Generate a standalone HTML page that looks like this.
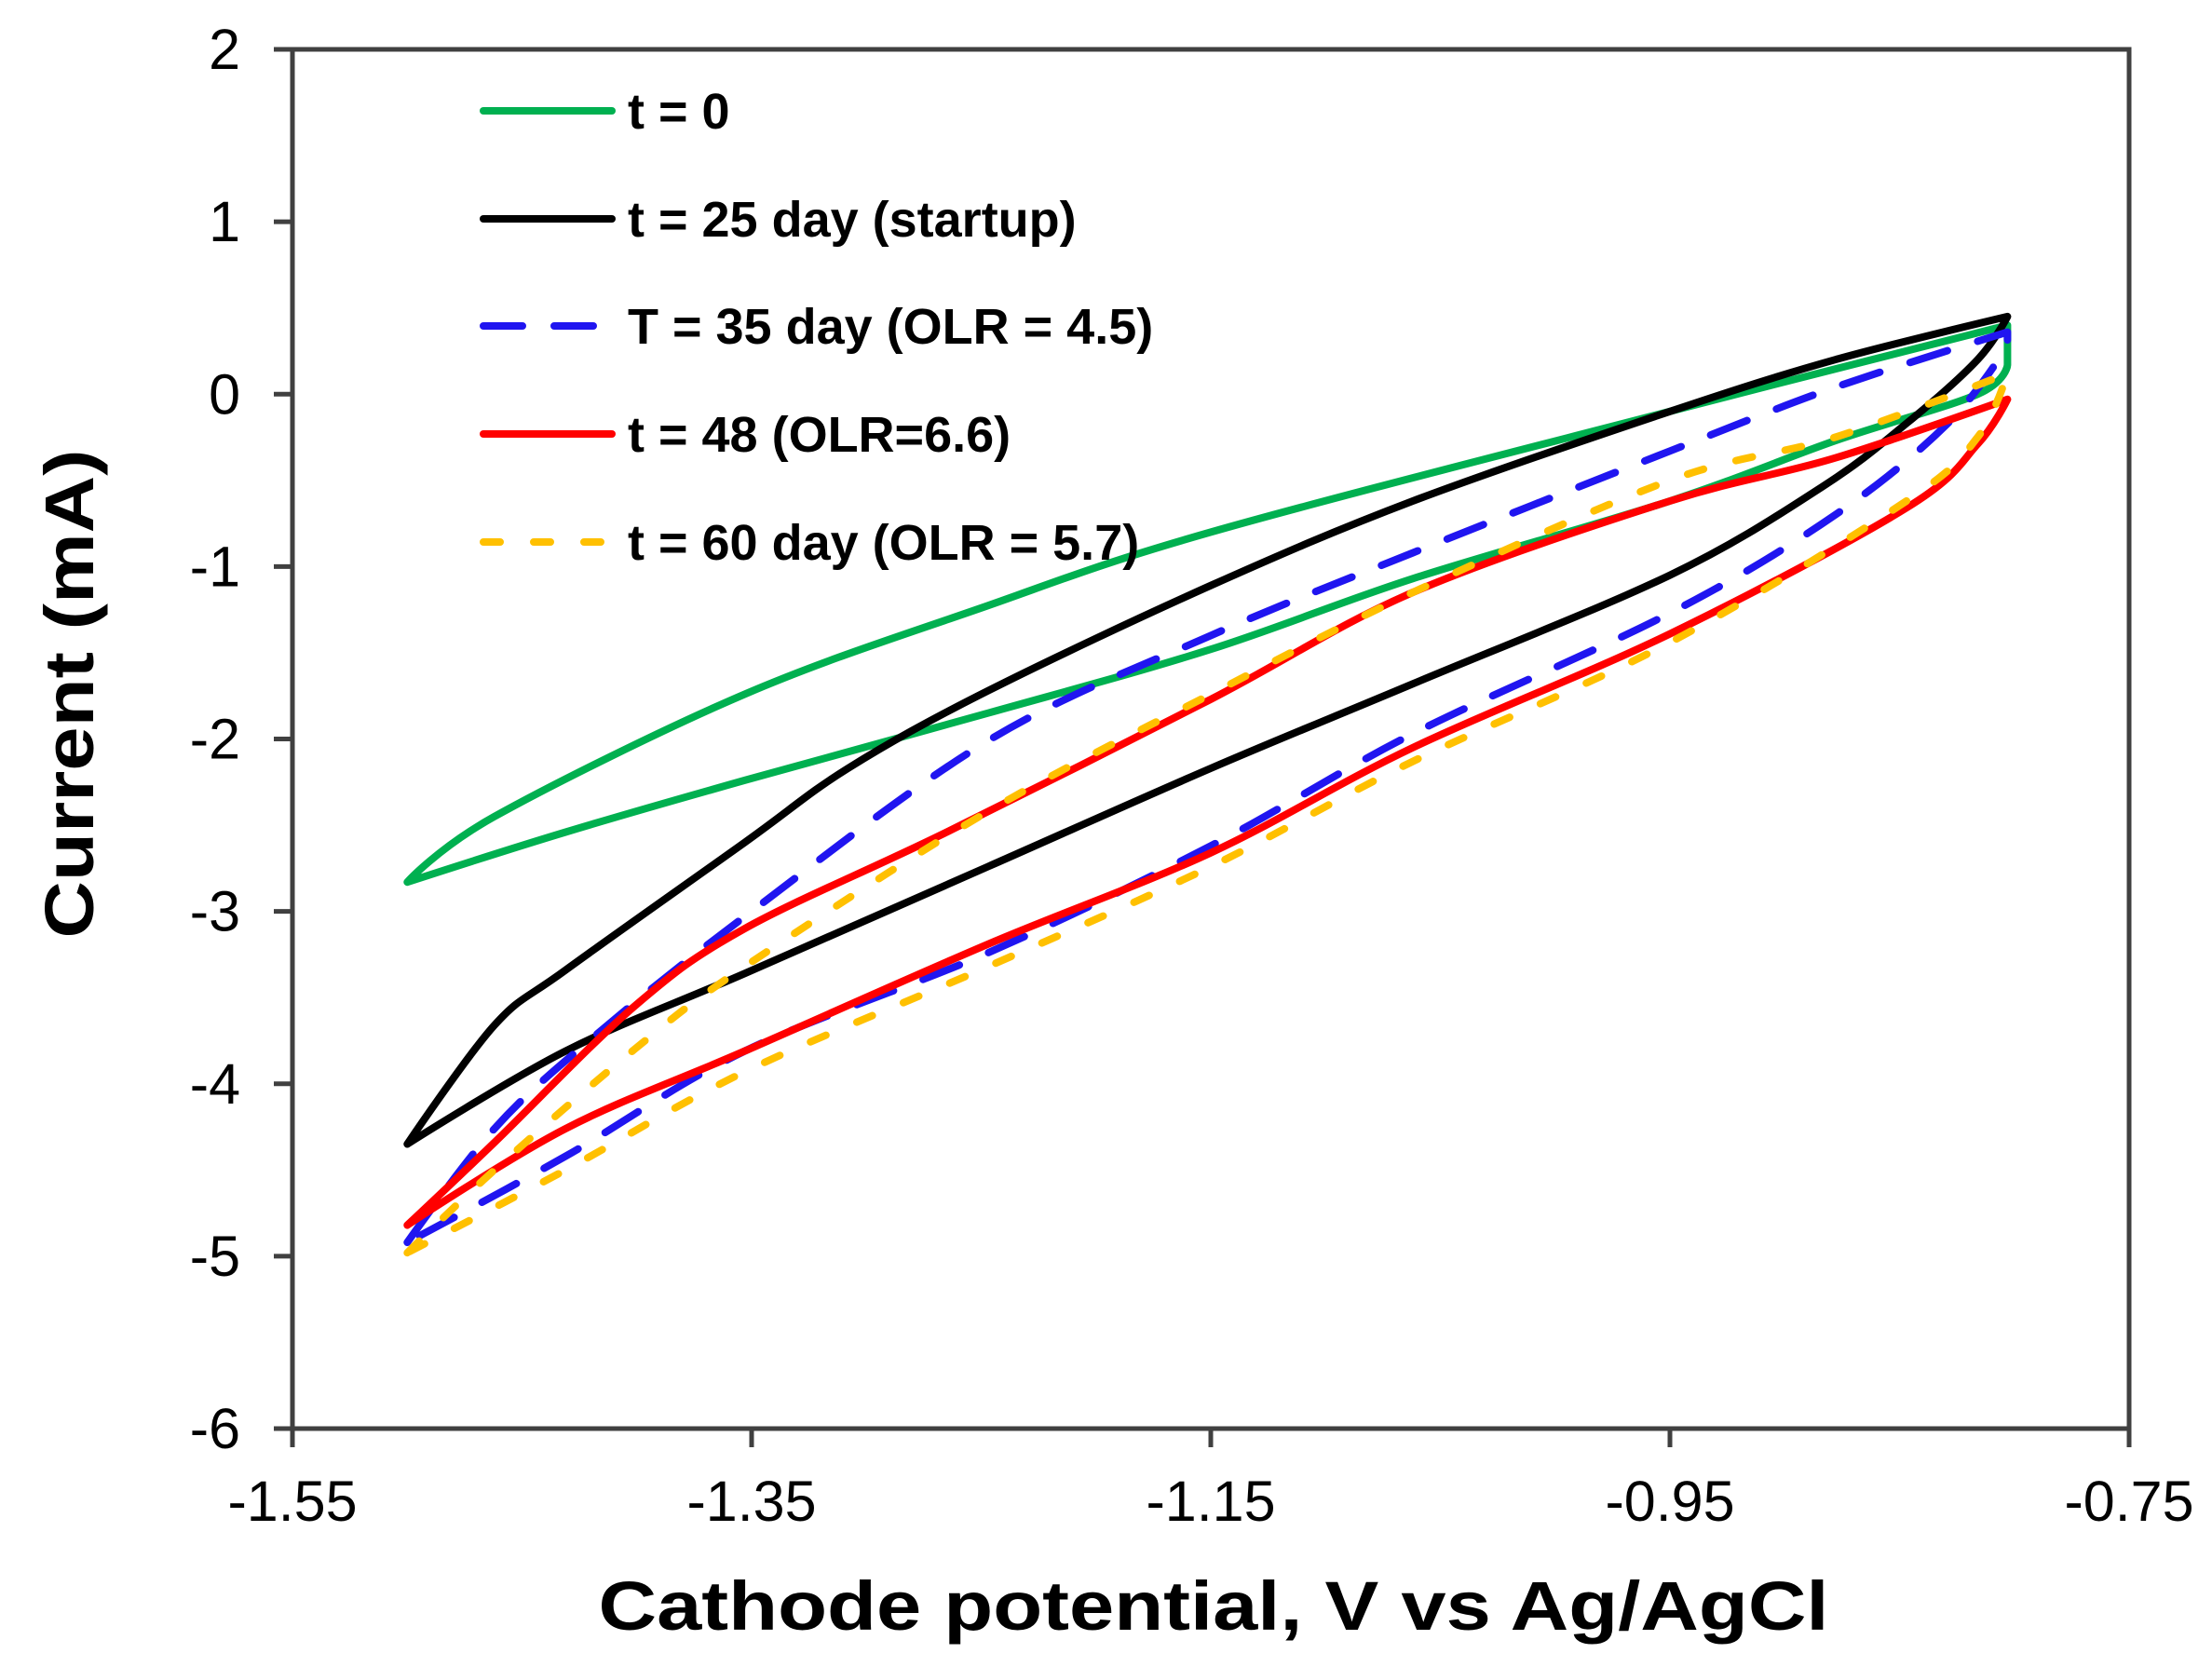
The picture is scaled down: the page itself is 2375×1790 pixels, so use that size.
<!DOCTYPE html>
<html><head><meta charset="utf-8"><style>
html,body{margin:0;padding:0;background:#fff}
svg{display:block}
text{font-family:"Liberation Sans",Arial,sans-serif}
</style></head><body>
<svg id="chart" width="2375" height="1790" viewBox="0 0 2375 1790" xmlns="http://www.w3.org/2000/svg">
<g id="plot"></g>
<g id="axes"></g>
<g id="legend"></g>
<text x="1303" y="1750" font-size="74" font-weight="bold" text-anchor="middle" textLength="1321" lengthAdjust="spacingAndGlyphs">Cathode potential, V vs Ag/AgCl</text>
<text transform="translate(100,745) rotate(-90)" font-size="74" font-weight="bold" text-anchor="middle" textLength="525" lengthAdjust="spacingAndGlyphs">Current (mA)</text>
</svg>
<script>
const xTicks = [-1.55, -1.35, -1.15, -0.95, -0.75];
const xTickLabels = ["-1.55", "-1.35", "-1.15", "-0.95", "-0.75"];
const yTicks = [2, 1, 0, -1, -2, -3, -4, -5, -6];
const yTickLabels = ["2", "1", "0", "-1", "-2", "-3", "-4", "-5", "-6"];

const seriesNames = ["t = 0", "t = 25 day (startup)", "T = 35 day (OLR = 4.5)", "t = 48 (OLR=6.6)", "t = 60 day (OLR = 5.7)"];

const t0V = [-1.5,-1.462,-1.353,-1.25,-1.15,-0.95,-0.803,-0.803,-0.816,-0.878,-0.95,-1.062,-1.15,-1.247,-1.353,-1.431,-1.5];
const t0I = [-2.83,-2.45,-1.74,-1.24,-0.8,-0.1,0.4,0.17,0.0,-0.27,-0.62,-1.07,-1.48,-1.85,-2.24,-2.54,-2.83];

const t25V = [-1.5,-1.462,-1.431,-1.353,-1.308,-1.247,-1.15,-1.062,-0.95,-0.878,-0.803,-0.816,-0.847,-0.884,-0.95,-1.062,-1.15,-1.247,-1.353,-1.431,-1.5];
const t25I = [-4.35,-3.66,-3.34,-2.6,-2.17,-1.72,-1.11,-0.62,-0.1,0.2,0.45,0.2,-0.17,-0.54,-1.05,-1.68,-2.17,-2.74,-3.36,-3.81,-4.35];

const t35V = [-1.5,-1.462,-1.419,-1.353,-1.247,-1.15,-1.062,-0.95,-0.878,-0.803,-0.803,-0.829,-0.878,-0.95,-1.062,-1.15,-1.247,-1.353,-1.431,-1.5];
const t35I = [-4.92,-4.26,-3.73,-3.03,-2.01,-1.4,-0.92,-0.33,0.04,0.36,0.28,-0.17,-0.7,-1.27,-1.97,-2.62,-3.24,-3.81,-4.42,-4.92];

const t48V = [-1.5,-1.462,-1.401,-1.353,-1.265,-1.15,-1.062,-0.95,-0.878,-0.803,-0.816,-0.847,-0.95,-1.062,-1.15,-1.247,-1.353,-1.431,-1.5];
const t48I = [-4.82,-4.34,-3.55,-3.1,-2.54,-1.77,-1.15,-0.62,-0.37,-0.03,-0.29,-0.66,-1.39,-2.05,-2.66,-3.19,-3.81,-4.26,-4.82];

const t60V = [-1.5,-1.462,-1.401,-1.353,-1.247,-1.15,-1.062,-0.95,-0.878,-0.803,-0.816,-0.847,-0.95,-1.062,-1.15,-1.247,-1.353,-1.431,-1.5];
const t60I = [-4.98,-4.5,-3.8,-3.32,-2.42,-1.74,-1.15,-0.5,-0.25,0.12,-0.25,-0.62,-1.44,-2.13,-2.74,-3.32,-3.93,-4.5,-4.98];

const L = 314, R = 2286, T = 53, B = 1534;
const xMin = -1.55, xMax = -0.75, yMin = -6, yMax = 2;
function xs(v){ return L + (v - xMin) / (xMax - xMin) * (R - L); }
function ys(v){ return B - (v - yMin) / (yMax - yMin) * (B - T); }
const NS = "http://www.w3.org/2000/svg";
function mk(tag, attrs, parent){ const e = document.createElementNS(NS, tag); for (const k in attrs) e.setAttribute(k, attrs[k]); parent.appendChild(e); return e; }

function smoothPath(vs, is){
  const pts = vs.map((v, i) => [xs(v), ys(is[i])]);
  const n = pts.length;
  const vmax = Math.max(...vs), vmin = Math.min(...vs);
  const corner = vs.map((v, i) => i === 0 || i === n - 1 || Math.abs(v - vmax) < 1e-9 || Math.abs(v - vmin) < 1e-9);
  const tan = pts.map((p, i) => {
    if (corner[i]) return [0, 0];
    const a = pts[i - 1], b = pts[i + 1];
    return [(b[0] - a[0]) / 6, (b[1] - a[1]) / 6];
  });
  let d = "M" + pts[0][0].toFixed(1) + "," + pts[0][1].toFixed(1);
  for (let i = 1; i < n; i++){
    const p0 = pts[i - 1], p1 = pts[i];
    if (corner[i - 1] && corner[i]) { d += " L" + p1[0].toFixed(1) + "," + p1[1].toFixed(1); continue; }
    const c1 = [p0[0] + tan[i - 1][0], p0[1] + tan[i - 1][1]];
    const c2 = [p1[0] - tan[i][0], p1[1] - tan[i][1]];
    d += " C" + c1[0].toFixed(1) + "," + c1[1].toFixed(1) + " " + c2[0].toFixed(1) + "," + c2[1].toFixed(1) + " " + p1[0].toFixed(1) + "," + p1[1].toFixed(1);
  }
  return d;
}

const plot = document.getElementById('plot');
const axes = document.getElementById('axes');
const legend = document.getElementById('legend');

const styles = [
  {c:"#00B050", dash:null, slug:"t0"},
  {c:"#000000", dash:null, slug:"t25"},
  {c:"#2015F0", dash:"42 34", slug:"t35"},
  {c:"#FF0000", dash:null, slug:"t48"},
  {c:"#FFC000", dash:"18 36", slug:"t60"}
];
const seriesV = [t0V, t25V, t35V, t48V, t60V];
const seriesI = [t0I, t25I, t35I, t48I, t60I];

seriesV.forEach((vs, s) => {
  const p = mk('path', {d:smoothPath(vs, seriesI[s]), fill:"none", stroke:styles[s].c, "stroke-width":8, "stroke-linejoin":"round", "stroke-linecap":"round"}, plot);
  if (styles[s].dash) p.setAttribute('stroke-dasharray', styles[s].dash);
  
  
});

const frame = mk('rect', {x:L, y:T, width:R-L, height:B-T, fill:"none", stroke:"#404040", "stroke-width":5}, axes);



xTicks.forEach((v, i) => {
  const tk = mk('line', {x1:xs(v), x2:xs(v), y1:B, y2:B+20, stroke:"#404040", "stroke-width":5}, axes);
  
  
  const t = mk('text', {x:xs(v), y:1633, "font-size":61, "text-anchor":"middle"}, axes);
  t.textContent = xTickLabels[i];
  
  
});
yTicks.forEach((v, i) => {
  const tk = mk('line', {x1:L-20, x2:L, y1:ys(v), y2:ys(v), stroke:"#404040", "stroke-width":5}, axes);
  
  
  const t = mk('text', {x:258, y:ys(v)+21, "font-size":61, "text-anchor":"end"}, axes);
  t.textContent = yTickLabels[i];
  
  
});

const legY = [119, 235, 350, 466, 582];
seriesNames.forEach((n, s) => {
  const g = mk('g', {}, legend);
  
  
  const ln = mk('line', {x1:519, x2:657, y1:legY[s], y2:legY[s], stroke:styles[s].c, "stroke-width":8, "stroke-linecap":"round"}, g);
  if (styles[s].dash) ln.setAttribute('stroke-dasharray', styles[s].dash);
  
  
  const t = mk('text', {x:674, y:legY[s]+19, "font-size":54, "font-weight":"bold"}, g);
  t.textContent = n;
  
  
});
</script>
</body></html>
